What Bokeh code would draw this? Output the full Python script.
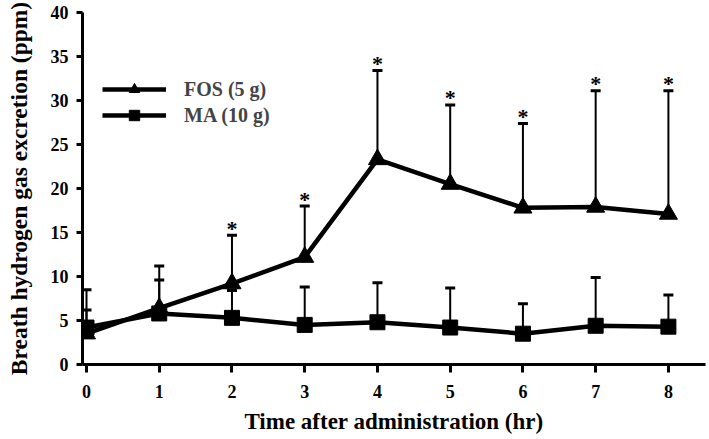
from bokeh.plotting import figure
from bokeh.models import FixedTicker, Range1d, Legend, LegendItem
from bokeh.core.properties import value
from bokeh.embed import file_html
from bokeh.resources import INLINE

hours = [0, 1, 2, 3, 4, 5, 6, 7, 8]
fos_mean = [3.5, 6.4, 9.2, 12.2, 23.3, 20.5, 17.8, 17.9, 17.1]
fos_upper = [6.2, 11.2, 14.7, 18.0, 33.4, 29.5, 27.4, 31.1, 31.1]
ma_mean = [4.2, 5.8, 5.3, 4.5, 4.8, 4.2, 3.5, 4.4, 4.3]
ma_upper = [8.5, 9.6, 8.4, 8.8, 9.3, 8.7, 6.9, 9.9, 7.9]
star_hours = [2, 3, 4, 5, 6, 7, 8]
star_upper = [14.7, 18.0, 33.4, 29.5, 27.4, 31.1, 31.1]
y_ticks = [0, 5, 10, 15, 20, 25, 30, 35, 40]

FONT = "Liberation Serif"

p = figure(width=709, height=439, output_backend="svg", toolbar_location=None,
           x_range=Range1d(-0.055, 8.51), y_range=Range1d(0, 40),
           min_border_left=82, min_border_right=4, min_border_top=12, min_border_bottom=75)
p.outline_line_color = None
p.grid.visible = False
p.background_fill_color = "white"

# error bars
for xs, m, u in [(hours, fos_mean, fos_upper), (hours, ma_mean, ma_upper)]:
    p.segment(x0=xs, y0=m, x1=xs, y1=u, line_color="black", line_width=2)
    p.scatter(x=xs, y=u, marker="dash", size=10, line_color="black", line_width=3)

fos_line = p.line(hours, fos_mean, line_color="black", line_width=4.5)
fos_pts = p.scatter(hours, fos_mean, marker="triangle", size=18, fill_color="black", line_color="black")
ma_line = p.line(hours, ma_mean, line_color="black", line_width=4.5)
ma_pts = p.scatter(hours, ma_mean, marker="square", size=15, fill_color="black", line_color="black")

p.text(x=star_hours, y=star_upper, text=["*"] * len(star_hours), text_font=value(FONT),
       text_font_size="22px", text_font_style="bold", text_align="center",
       text_baseline="alphabetic", y_offset=-7, text_color="black")

legend = Legend(items=[LegendItem(label="FOS (5 g)", renderers=[fos_line, fos_pts]),
                       LegendItem(label="MA (10 g)", renderers=[ma_line, ma_pts])],
                location=(20, 236), orientation="vertical")
legend.glyph_width = 64
legend.glyph_height = 26
legend.label_height = 26
legend.spacing = 0
legend.padding = 0
legend.margin = 0
legend.label_standoff = 18
legend.border_line_color = None
legend.background_fill_alpha = 0
legend.label_text_font = FONT
legend.label_text_font_style = "bold"
legend.label_text_font_size = "20px"
p.add_layout(legend)

for ax in [p.xaxis[0], p.yaxis[0]]:
    ax.axis_line_width = 3
    ax.major_tick_line_width = 3
    ax.minor_tick_line_color = None
    ax.major_tick_in = 0
    ax.major_label_text_font = FONT
    ax.major_label_text_font_style = "bold"
    ax.major_label_text_font_size = "18px"
    ax.major_label_text_color = "black"
    ax.axis_label_text_font = FONT
    ax.axis_label_text_font_style = "bold"
    ax.axis_label_text_color = "black"

p.xaxis.axis_label_text_font_size = "23px"
p.yaxis.axis_label_text_font_size = "23.5px"
p.xaxis.ticker = FixedTicker(ticks=hours)
p.yaxis.ticker = FixedTicker(ticks=y_ticks)
p.xaxis.major_tick_out = 8
p.yaxis.major_tick_out = 6
p.xaxis.major_label_standoff = 12
p.yaxis.major_label_standoff = 8
p.xaxis.axis_label = "Time after administration (hr)"
p.yaxis.axis_label = "Breath hydrogen gas excretion (ppm)"
p.xaxis.axis_label_standoff = 8
p.yaxis.axis_label_standoff = 16

open("out.html", "w").write(file_html(p, INLINE))
